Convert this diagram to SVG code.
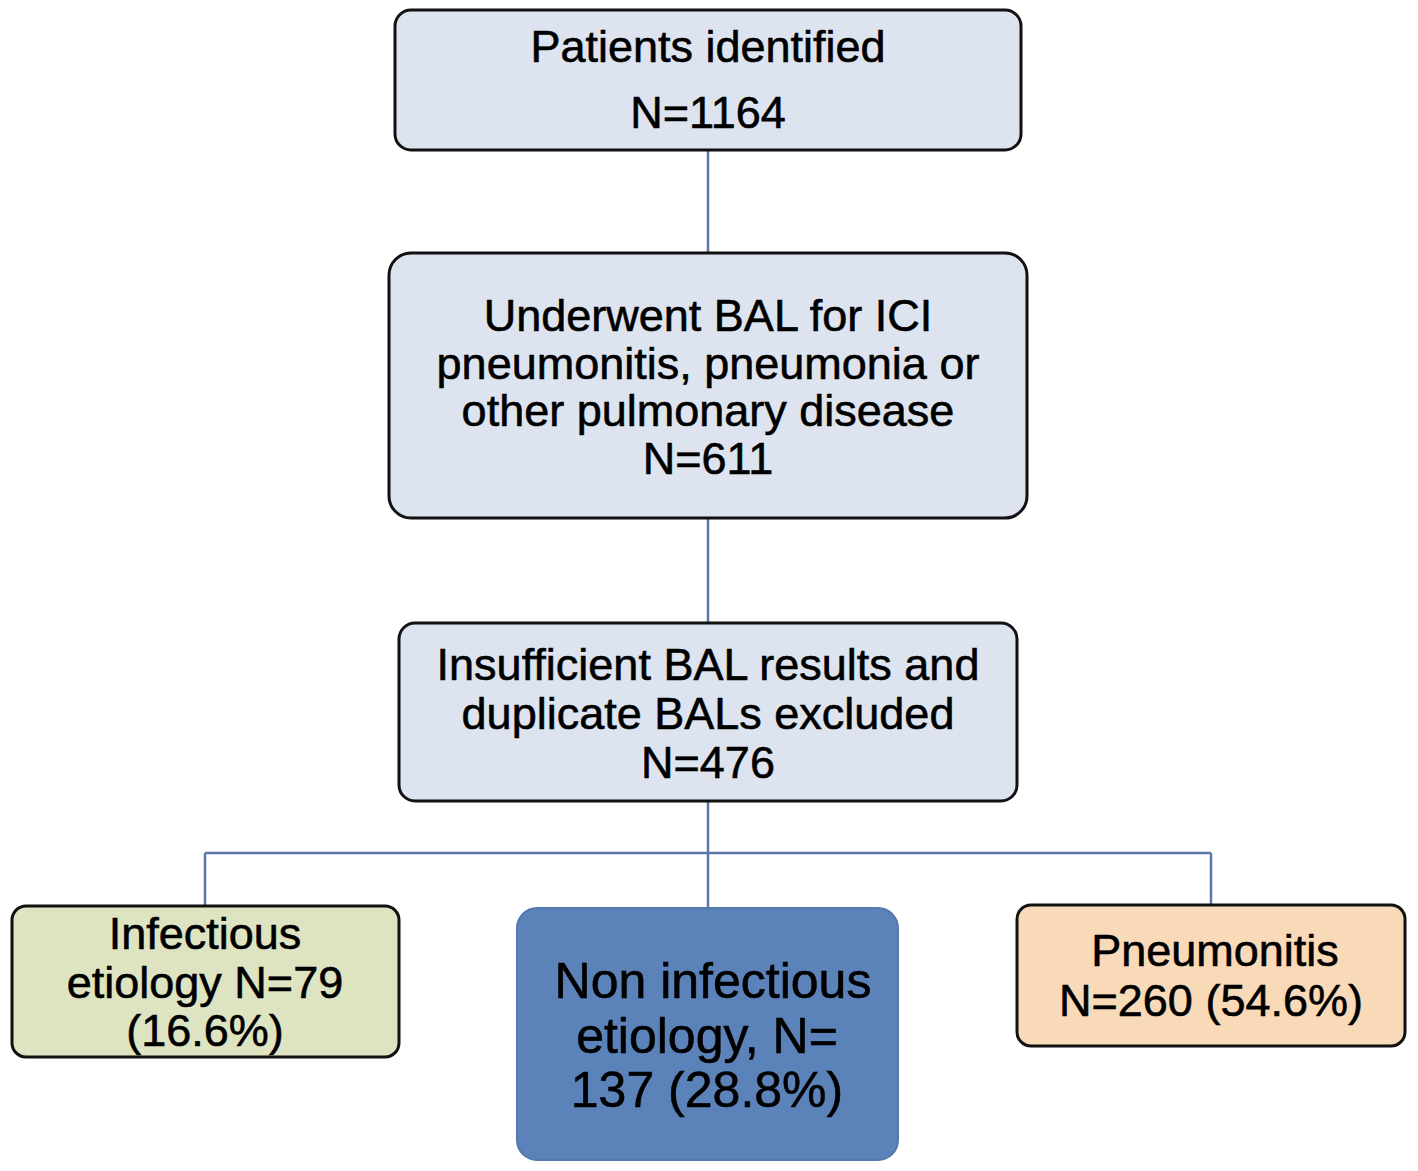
<svg xmlns="http://www.w3.org/2000/svg" width="1418" height="1171" viewBox="0 0 1418 1171">
<style>
.box{stroke:#111;stroke-width:3}
.top{fill:#dde4ef}
.t{font-family:"Liberation Sans",Arial,sans-serif;font-size:45px;fill:#000;stroke:#000;stroke-width:0.6;text-anchor:middle}
.big{font-size:50px}
.c{fill:none;stroke:#5b79a8;stroke-width:2.5}
</style>
<rect width="1418" height="1171" fill="#fff"/>
<g id="connectors">
<path class="c" d="M708 150V253M708 518V623M708 801V908M205 853H1211M205 853V906M1211 853V905"/>
</g>
<g id="n1">
<rect class="box top" x="395" y="10" width="626" height="140" rx="16"/>
<text class="t" x="708" y="62">Patients identified</text>
<text class="t" x="708" y="128">N=1164</text>
</g>
<g id="n2">
<rect class="box top" x="389" y="253" width="638" height="265" rx="22"/>
<text class="t" x="708" y="331">Underwent BAL for ICI</text>
<text class="t" x="708" y="379">pneumonitis, pneumonia or</text>
<text class="t" x="708" y="426">other pulmonary disease</text>
<text class="t" x="708" y="474">N=611</text>
</g>
<g id="n3">
<rect class="box top" x="399" y="623" width="618" height="178" rx="16"/>
<text class="t" x="708" y="680">Insufficient BAL results and</text>
<text class="t" x="708" y="729">duplicate BALs excluded</text>
<text class="t" x="708" y="778">N=476</text>
</g>
<g id="n4">
<rect class="box" x="12" y="906" width="387" height="151" rx="14" fill="#dee4c2"/>
<text class="t" x="205" y="949">Infectious</text>
<text class="t" x="205" y="998">etiology N=79</text>
<text class="t" x="205" y="1046">(16.6%)</text>
</g>
<g id="n5">
<rect x="517" y="908" width="381" height="252" rx="20" fill="#5b82b9" stroke="#5578ad" stroke-width="2"/>
<text class="t big" x="713" y="998">Non infectious</text>
<text class="t big" x="707" y="1053">etiology, N=</text>
<text class="t big" x="707" y="1107">137 (28.8%)</text>
</g>
<g id="n6">
<rect class="box" x="1017" y="905" width="388" height="141" rx="14" fill="#f8d9b8"/>
<text class="t" x="1215" y="966">Pneumonitis</text>
<text class="t" x="1211" y="1016">N=260 (54.6%)</text>
</g>
</svg>
